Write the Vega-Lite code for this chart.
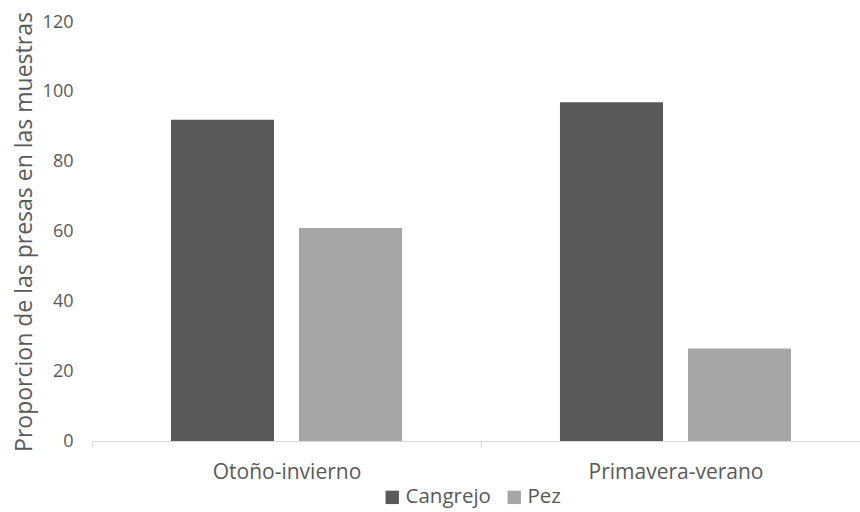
{
  "$schema": "https://vega.github.io/schema/vega-lite/v6.json",
  "width": 778,
  "height": 419,
  "autosize": {"type": "none"},
  "padding": {"left": 92, "top": 22, "right": 0, "bottom": 71},
  "background": "white",
  "config": {
    "view": {"stroke": null},
    "font": "Open Sans",
    "axis": {"labelColor": "#595959", "titleColor": "#595959", "labelFont": "Open Sans", "titleFont": "Open Sans"}
  },
  "data": {
    "values": [
      {"temporada": "Otoño-invierno", "presa": "Cangrejo", "proporcion": 92},
      {"temporada": "Otoño-invierno", "presa": "Pez", "proporcion": 61},
      {"temporada": "Primavera-verano", "presa": "Cangrejo", "proporcion": 97},
      {"temporada": "Primavera-verano", "presa": "Pez", "proporcion": 26.5}
    ]
  },
  "mark": {"type": "bar"},
  "encoding": {
    "x": {
      "field": "temporada",
      "type": "nominal",
      "sort": null,
      "scale": {"paddingInner": 0, "paddingOuter": 0},
      "axis": {
        "title": null,
        "labelAngle": 0,
        "labelFontSize": 21,
        "labelPadding": 14,
        "tickBand": "extent",
        "tickSize": 6,
        "tickColor": "#d9d9d9",
        "domainColor": "#d9d9d9",
        "domainWidth": 1
      }
    },
    "xOffset": {
      "field": "presa",
      "type": "nominal",
      "scale": {"paddingInner": 0.195, "paddingOuter": 0.617}
    },
    "y": {
      "field": "proporcion",
      "type": "quantitative",
      "scale": {"domain": [0, 120]},
      "axis": {
        "title": "Proporcion de las presas en las muestras",
        "titleFontSize": 23,
        "titleFontWeight": "normal",
        "titlePadding": 6,
        "labelFontSize": 18,
        "labelPadding": 19,
        "values": [0, 20, 40, 60, 80, 100, 120],
        "domain": false,
        "ticks": false,
        "grid": false
      }
    },
    "color": {
      "field": "presa",
      "type": "nominal",
      "scale": {"domain": ["Cangrejo", "Pez"], "range": ["#595959", "#a6a6a6"]},
      "legend": {
        "title": null,
        "orient": "none",
        "legendX": 290,
        "legendY": 465,
        "direction": "horizontal",
        "symbolType": "square",
        "symbolSize": 180,
        "symbolStrokeWidth": 0,
        "labelFontSize": 20.5,
        "labelColor": "#595959",
        "labelFont": "Open Sans",
        "labelOffset": 3,
        "columnPadding": 13
      }
    }
  }
}
